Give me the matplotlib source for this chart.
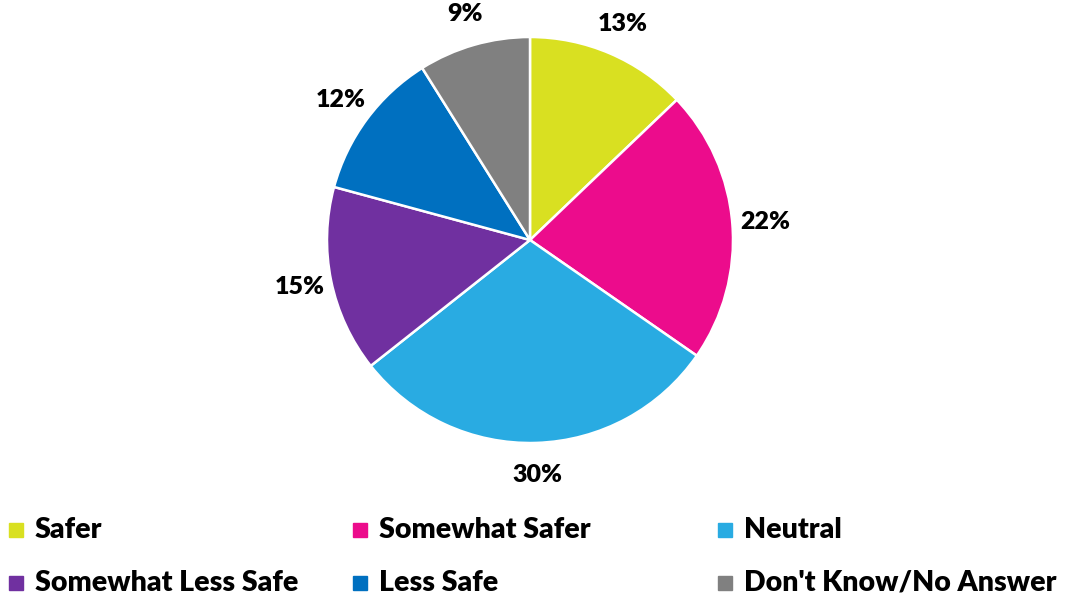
import matplotlib.pyplot as plt
from matplotlib.patches import Rectangle

labels = ["Safer", "Somewhat Safer", "Neutral",
          "Somewhat Less Safe", "Less Safe", "Don't Know/No Answer"]
values = [13, 22, 30, 15, 12, 9]
colors = ["#D9E021", "#EC0C8C", "#29ABE2", "#7030A0", "#0070C0", "#808080"]

plt.rcParams['font.family'] = ['Lato', 'DejaVu Sans']

W, H = 1070, 598
fig = plt.figure(figsize=(W / 100, H / 100), dpi=100)

# pie centre (530, 240) px, radius 203 px; pie limits are +-1.25
cx, cy, r = 530, 240, 203
half = r * 1.25
ax = fig.add_axes([(cx - half) / W, (H - cy - half) / H, 2 * half / W, 2 * half / H])

wedges, texts, autotexts = ax.pie(
    values, colors=colors, startangle=90, counterclock=False,
    autopct='%d', pctdistance=1.16,
    wedgeprops=dict(edgecolor='white', linewidth=1.8))
for t, v in zip(autotexts, values):
    t.set_text(f"{v}%")
    t.set_fontsize(18)
    t.set_fontweight('heavy')
    t.set_color('black')

# legend laid out as in the original grid
col_x = [9, 353, 718]
row_y = [530, 583]
for i, (lab, col) in enumerate(zip(labels, colors)):
    x = col_x[i % 3]
    y = row_y[i // 3]
    fig.add_artist(Rectangle((x / W, (H - y - 7) / H), 14 / W, 14 / H,
                             transform=fig.transFigure, color=col))
    fig.text((x + 26) / W, (H - y) / H, lab, fontsize=20.5, fontweight='heavy',
             va='center', ha='left')

fig.savefig("out.png", dpi=100)
